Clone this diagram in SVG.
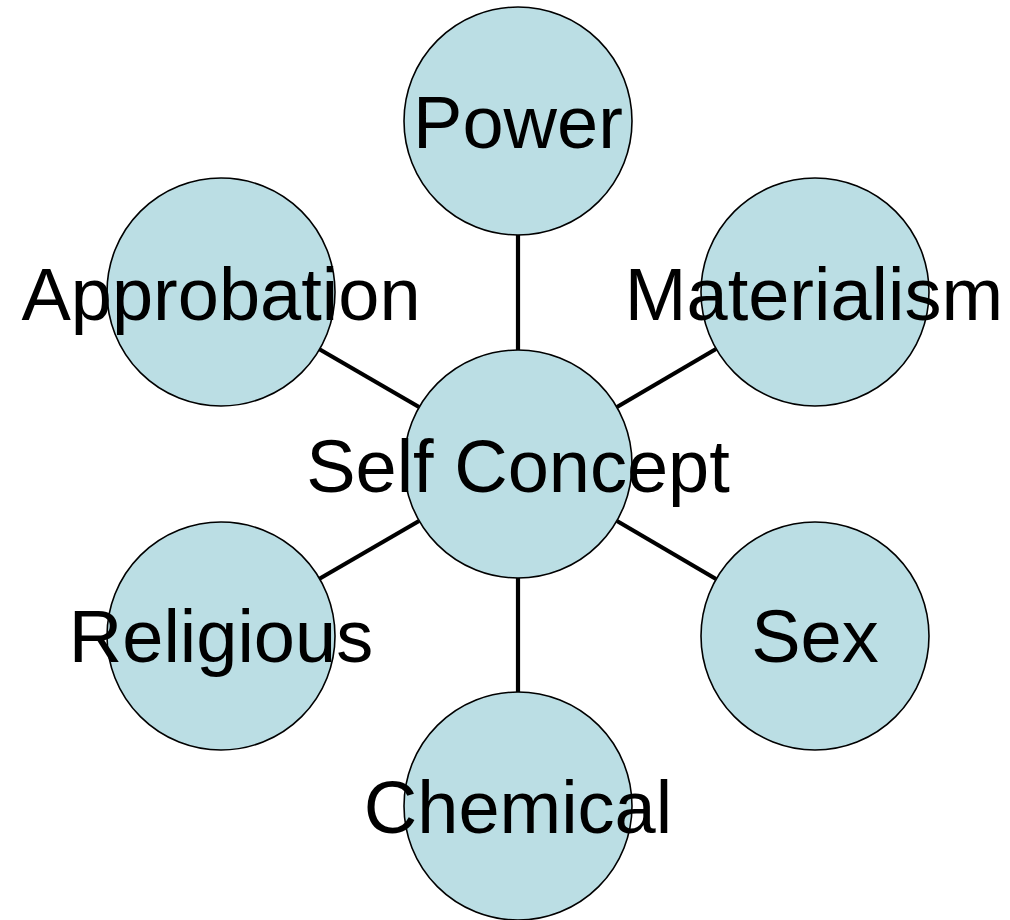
<svg xmlns="http://www.w3.org/2000/svg" width="1010" height="920" viewBox="0 0 1010 920">
<style>
.n circle{fill:#bbdee4;stroke:#000;stroke-width:1.6}
.n text{font-family:"Liberation Sans",Arial,sans-serif;font-size:74px;fill:#000;text-anchor:middle}
.c line{stroke:#000;stroke-width:4.2}
</style>
<rect width="1010" height="920" fill="#fff"/>
<g class="c" id="connectors">
<line x1="518" y1="235" x2="518" y2="350"/>
<line x1="319" y1="349" x2="419" y2="407"/>
<line x1="716" y1="349" x2="617" y2="407"/>
<line x1="319" y1="579" x2="419" y2="521"/>
<line x1="716" y1="579" x2="617" y2="521"/>
<line x1="518" y1="578" x2="518" y2="692"/>
</g>
<g class="n" id="power"><circle cx="518" cy="121" r="114"/><text x="518" y="148">Power</text></g>
<g class="n" id="approbation"><circle cx="221" cy="292" r="114"/><text x="221" y="320">Approbation</text></g>
<g class="n" id="materialism"><circle cx="815" cy="292" r="114"/><text x="814" y="320">Materialism</text></g>
<g class="n" id="self"><circle cx="518" cy="464" r="114"/><text x="518" y="492">Self Concept</text></g>
<g class="n" id="religious"><circle cx="221" cy="636" r="114"/><text x="221" y="662">Religious</text></g>
<g class="n" id="sex"><circle cx="815" cy="636" r="114"/><text x="815" y="662">Sex</text></g>
<g class="n" id="chemical"><circle cx="518" cy="806" r="114"/><text x="518" y="833">Chemical</text></g>
</svg>
